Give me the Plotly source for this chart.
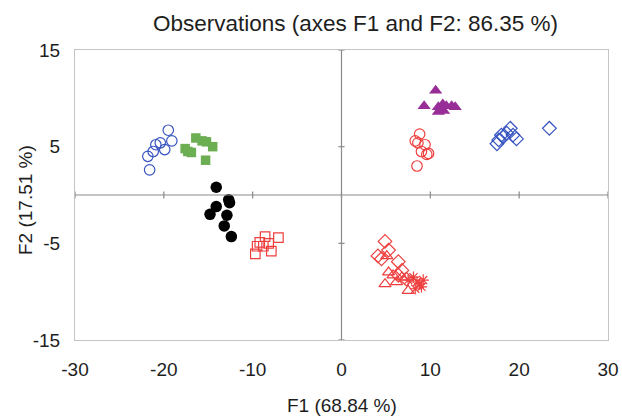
import plotly.graph_objects as go

# ---- data ----
blue_circ_x = [-19.5, -19.1, -19.9, -20.4, -20.9, -21.2, -21.8, -21.6]
blue_circ_y = [6.7, 5.6, 4.7, 5.4, 5.2, 4.5, 4.0, 2.6]

green_sq_x = [-16.4, -15.7, -15.2, -14.5, -17.6, -17.3, -16.9, -15.3]
green_sq_y = [5.9, 5.6, 5.5, 5.0, 4.8, 4.5, 4.4, 3.6]

black_x = [-14.1, -12.7, -12.6, -14.1, -14.8, -12.9, -13.2, -12.4]
black_y = [0.8, -0.5, -0.8, -1.2, -2.0, -2.1, -3.2, -4.3]

red_sq_x = [-7.1, -8.6, -9.2, -8.2, -9.5, -7.9, -8.8, -9.7]
red_sq_y = [-4.4, -4.3, -4.9, -5.0, -5.3, -5.8, -5.3, -6.1]

purple_tri_x = [10.6, 9.3, 10.9, 11.4, 11.8, 12.4, 12.8, 11.5, 10.9]
purple_tri_y = [10.8, 9.2, 9.1, 9.4, 9.2, 9.2, 9.1, 8.7, 8.6]

red_circ_x = [8.8, 8.3, 8.6, 9.4, 9.0, 9.8, 9.6, 8.5]
red_circ_y = [6.3, 5.6, 5.4, 5.2, 4.5, 4.3, 4.2, 3.0]

blue_dia_x = [19.0, 18.6, 18.0, 19.3, 17.7, 18.2, 19.7, 17.5, 23.4]
blue_dia_y = [6.9, 6.4, 6.2, 6.2, 5.7, 6.0, 5.8, 5.3, 6.9]

red_dia_x = [4.9, 4.1, 4.5, 5.3, 6.4, 6.8, 6.4, 7.3]
red_dia_y = [-4.8, -6.3, -6.6, -5.7, -6.9, -7.8, -8.3, -8.7]

red_tri_x = [5.1, 5.3, 5.8, 4.9, 6.2, 6.8, 7.5]
red_tri_y = [-6.3, -8.0, -8.3, -9.2, -9.0, -8.5, -9.9]

red_ast_x = [8.1, 8.5, 8.8, 9.0, 8.3, 9.2, 7.5]
red_ast_y = [-8.5, -9.0, -9.2, -9.5, -9.7, -8.8, -8.8]

x_ticks = [-30, -20, -10, 0, 10, 20, 30]
y_ticks = [-15, -5, 5, 15]
x_range = [-30, 30]
y_range = [-15, 15]

title_text = "Observations (axes F1 and F2: 86.35 %)"
x_title = "F1 (68.84 %)"
y_title = "F2 (17.51 %)"

BLUE = "#3653c0"
GREEN = "#6cae52"
PURPLE = "#982d98"
RED = "#ee3f3f"
FONT = "Liberation Sans, Arial, Helvetica, sans-serif"
TXT = "#1e1e1e"

fig = go.Figure()

def add(xs, ys, symbol, color, size, lw=1.2):
    fig.add_trace(go.Scatter(
        x=xs, y=ys, mode="markers",
        marker=dict(symbol=symbol, size=size, color=color,
                    line=dict(color=color, width=lw)),
        showlegend=False, hoverinfo="x+y"))

add(blue_circ_x, blue_circ_y, "circle-open", BLUE, 10.5)
add(green_sq_x, green_sq_y, "square", GREEN, 9.5, 0)
add(black_x, black_y, "circle", "black", 11.5, 0)
add(red_sq_x, red_sq_y, "square-open", RED, 9.5)
add(purple_tri_x, purple_tri_y, "triangle-up", PURPLE, 11.5, 0)
add(red_circ_x, red_circ_y, "circle-open", RED, 10.5)
add(blue_dia_x, blue_dia_y, "diamond-open", BLUE, 10.5)
add(red_dia_x, red_dia_y, "diamond-open", RED, 10.5)
add(red_tri_x, red_tri_y, "triangle-up-open", RED, 10.5)
add(red_ast_x, red_ast_y, "asterisk-open", RED, 9.5)

# zero lines with their ticks
shapes = [
    dict(type="line", xref="x", yref="y", x0=x_range[0], x1=x_range[1], y0=0, y1=0,
         line=dict(color="#8a8a8a", width=1.2)),
    dict(type="line", xref="x", yref="y", x0=0, x1=0, y0=y_range[0], y1=y_range[1],
         line=dict(color="#8a8a8a", width=1.2)),
]
for t in x_ticks:
    shapes.append(dict(type="line", xref="x", yref="y", x0=t, x1=t, y0=-0.35, y1=0.35,
                       line=dict(color="#8a8a8a", width=1.2)))
for t in y_ticks:
    shapes.append(dict(type="line", xref="x", yref="y", x0=-0.35, x1=0.35, y0=t, y1=t,
                       line=dict(color="#8a8a8a", width=1.2)))

fig.update_layout(
    width=622, height=417,
    margin=dict(l=75, r=14, t=50, b=77),
    paper_bgcolor="white", plot_bgcolor="white",
    font=dict(family=FONT, color=TXT),
    title=dict(text=title_text, font=dict(size=22.5, color=TXT, family=FONT),
               xref="container", x=355.5 / 622, xanchor="center",
               yref="container", y=1 - 23 / 417, yanchor="middle"),
    shapes=shapes,
    annotations=[
        dict(text=x_title, xref="paper", yref="paper", x=0.5, y=0, yshift=-65,
             xanchor="center", yanchor="middle", showarrow=False,
             font=dict(size=19, family=FONT, color=TXT)),
        dict(text=y_title, xref="paper", yref="paper", x=0, y=0.5, xshift=-50, yshift=-5,
             xanchor="center", yanchor="middle", showarrow=False, textangle=-90,
             font=dict(size=19, family=FONT, color=TXT)),
    ],
)
fig.update_xaxes(range=x_range, tickvals=x_ticks, ticktext=[str(v) for v in x_ticks],
                 showgrid=False, zeroline=False, showline=True, mirror=True,
                 linecolor="#c4c4c4", linewidth=1, ticks="", ticklabelstandoff=12,
                 automargin=False,
                 tickfont=dict(size=19, family=FONT, color=TXT))
fig.update_yaxes(range=y_range, tickvals=y_ticks, ticktext=[str(v) for v in y_ticks],
                 showgrid=False, zeroline=False, showline=True, mirror=True,
                 linecolor="#c4c4c4", linewidth=1, ticks="", ticklabelstandoff=10,
                 automargin=False,
                 tickfont=dict(size=19, family=FONT, color=TXT))

fig.write_html("out.html", config={"displayModeBar": False},
               post_script="document.body.style.margin='0';")
